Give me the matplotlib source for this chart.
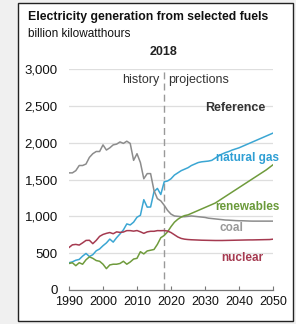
import matplotlib.pyplot as plt
from matplotlib.patches import Rectangle

plt.rcParams["font.family"] = ["Liberation Sans", "DejaVu Sans"]

hist_years = list(range(1990, 2019))
proj_years = list(range(2018, 2051))
years = hist_years + proj_years[1:]

gas = [370, 382, 404, 415, 460, 496, 455, 479, 532, 557,
       601, 639, 691, 650, 710, 761, 816, 897, 883, 921,
       988, 1014, 1226, 1125, 1127, 1335, 1379, 1296, 1469,
       1480, 1510, 1560, 1590, 1620, 1640, 1660, 1690, 1710, 1730, 1740,
       1745, 1750, 1760, 1790, 1820, 1845, 1865, 1880, 1900, 1915,
       1930, 1950, 1970, 1990, 2010, 2030, 2050, 2070, 2090, 2110, 2130]

coal = [1590, 1590, 1620, 1690, 1690, 1710, 1800, 1850, 1880, 1880,
        1970, 1900, 1930, 1970, 1980, 2010, 1990, 2020, 1990, 1760,
        1850, 1730, 1510, 1580, 1580, 1350, 1240, 1210, 1150,
        1080, 1030, 1005, 1000, 995, 995, 1000, 1005, 1000, 995, 990,
        985, 975, 970, 965, 960, 955, 950, 948, 945, 942,
        940, 940, 938, 936, 935, 935, 935, 935, 935, 935, 935]

renewables = [360, 370, 330, 370, 350, 410, 450, 430, 400, 390,
              350, 290, 340, 350, 350, 360, 390, 350, 380, 420,
              430, 520, 490, 530, 540, 550, 620, 710, 740,
              790, 860, 920, 960, 990, 1010, 1020, 1040, 1060, 1080, 1100,
              1120, 1140, 1160, 1180, 1210, 1240, 1270, 1300, 1330, 1360,
              1390, 1420, 1450, 1480, 1510, 1540, 1570, 1600, 1630, 1665, 1700]

nuclear = [577, 613, 619, 610, 640, 673, 675, 629, 673, 728,
           754, 769, 780, 764, 789, 782, 787, 806, 806, 799,
           807, 790, 769, 789, 797, 797, 806, 805, 807,
           800, 780, 750, 720, 700, 690, 685, 682, 680, 678, 676,
           675, 674, 673, 672, 672, 672, 673, 674, 675, 676,
           677, 678, 679, 680, 680, 681, 682, 683, 684, 685, 690]

series = [
    ("natural gas", gas, "#3ba6d3"),
    ("coal", coal, "#8c8c8c"),
    ("renewables", renewables, "#6f9b3c"),
    ("nuclear", nuclear, "#a53a50"),
]

W, H = 296, 324


def fx(px):
    return px / W


def fy(py):
    return 1 - py / H


fig = plt.figure(figsize=(W / 100, H / 100), dpi=100, facecolor="#f0f0f0")
fig.patches.append(Rectangle((fx(18), fy(321)), fx(293) - fx(18), fy(3) - fy(321),
                             transform=fig.transFigure, facecolor="white",
                             edgecolor="#222222", linewidth=1.0, zorder=-5))

ax = fig.add_axes([fx(69), fy(290), fx(273) - fx(69), fy(69) - fy(290)])
ax.set_facecolor("none")
ax.set_zorder(2)

for name, vals, color in series:
    ax.plot(years, vals, color=color, linewidth=1.1, zorder=3)

ax.axvline(2018, color="#999999", linestyle=(0, (5, 3)), linewidth=1.0, zorder=2)

ax.set_xlim(1990, 2050)
ax.set_ylim(0, 3000)
ax.set_xticks(range(1990, 2051, 10))
ax.set_yticks(range(0, 3001, 500))
ax.set_yticklabels([f"{v:,}" for v in range(0, 3001, 500)])
ax.grid(axis="y", color="#dedede", linewidth=0.9)
ax.set_axisbelow(True)
for s in ["left", "right", "top"]:
    ax.spines[s].set_visible(False)
ax.spines["bottom"].set_color("#777777")
ax.spines["bottom"].set_linewidth(0.9)
ax.tick_params(axis="x", direction="in", length=3, color="#777777", pad=4,
               labelsize=9, labelcolor="#111111")
ax.tick_params(axis="y", length=0, pad=8, labelsize=9.5, labelcolor="#111111")

fig.text(fx(28), fy(17), "Electricity generation from selected fuels",
         fontsize=8.8, fontweight="bold", va="center", ha="left", color="#111111")
fig.text(fx(28), fy(34), "billion kilowatthours", fontsize=8.5,
         va="center", ha="left", color="#111111")
fig.text(fx(164), fy(52), "2018", fontsize=9, fontweight="bold",
         va="center", ha="center", color="#222222")
fig.text(fx(159), fy(80), "history", fontsize=9, va="center", ha="right", color="#333333")
fig.text(fx(168), fy(80), "projections", fontsize=9, va="center", ha="left", color="#333333")
fig.text(fx(265), fy(108), "Reference", fontsize=9, fontweight="bold",
         va="center", ha="right", color="#333333")

labels = [
    ("natural gas", 279, 158, "#2f9fd4"),
    ("renewables", 280, 207, "#6a9a3a"),
    ("coal", 243, 228, "#999999"),
    ("nuclear", 263, 258, "#a53a50"),
]
for text, x, y, c in labels:
    fig.text(fx(x), fy(y), text, fontsize=8.5, fontweight="bold",
             va="center", ha="right", color=c)

fig.savefig("out.png", dpi=100, facecolor=fig.get_facecolor())
